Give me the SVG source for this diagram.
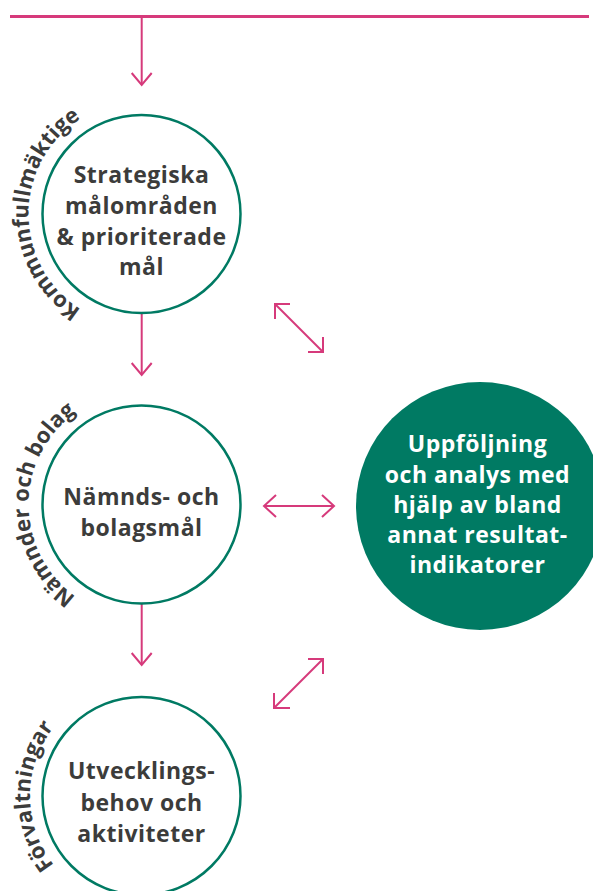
<svg xmlns="http://www.w3.org/2000/svg" width="593" height="891" viewBox="0 0 593 891">
<style>
.ring{fill:#ffffff;stroke:#007a63;stroke-width:2.5}
.solid{fill:#007a63}
.t{font-family:"Open Sans","Liberation Sans",sans-serif;font-weight:700;font-size:23px;text-anchor:middle;fill:#3c3c3b;letter-spacing:0.5px}
.tw{fill:#ffffff}
.lbl{font-family:"Open Sans","Liberation Sans",sans-serif;font-weight:700;font-size:22px;fill:#3c3c3b}
.c{fill:none;stroke:#d63a7b;stroke-width:2;stroke-linecap:butt;stroke-linejoin:miter}
.top{fill:none;stroke:#d63a7b;stroke-width:3}
</style>
<defs>
<path id="arc1" d="M141.5,327 A113,113 0 0 1 141.5,101"/>
<path id="arc2" d="M141.5,617.5 A113,113 0 0 1 141.5,391.5"/>
<path id="arc3" d="M141.5,907.5 A111.5,111.5 0 0 1 141.5,684.5"/>
</defs>
<g id="connectors">
<line class="top" x1="10" y1="16.5" x2="589" y2="16.5"/>
<line class="c" x1="141.7" y1="16.5" x2="141.7" y2="85"/>
<polyline class="c" points="131.7,73 141.7,85 151.7,73"/>
<line class="c" x1="141.7" y1="313" x2="141.7" y2="375"/>
<polyline class="c" points="131.7,363 141.7,375 151.7,363"/>
<line class="c" x1="141.7" y1="603.5" x2="141.7" y2="665"/>
<polyline class="c" points="131.7,653 141.7,665 151.7,653"/>
<line class="c" x1="275" y1="304" x2="323" y2="352"/>
<polyline class="c" points="290,304 275,304 275,319"/>
<polyline class="c" points="308,352 323,352 323,337"/>
<line class="c" x1="264" y1="506" x2="334" y2="506"/>
<polyline class="c" points="276,495 264,506 276,517"/>
<polyline class="c" points="322,495 334,506 322,517"/>
<line class="c" x1="274" y1="708" x2="323" y2="659"/>
<polyline class="c" points="308,659 323,659 323,674"/>
<polyline class="c" points="274,693 274,708 290,708"/>
</g>
<g id="node-strategiska">
<circle class="ring" cx="141.5" cy="214" r="99"/>
<text class="t" x="141.5" y="183">Strategiska</text>
<text class="t" x="141.5" y="214">målområden</text>
<text class="t" x="141.5" y="245">&amp; prioriterade</text>
<text class="t" x="141.5" y="275">mål</text>
<text class="lbl"><textPath href="#arc1" startOffset="50%" text-anchor="middle">Kommunfullmäktige</textPath></text>
</g>
<g id="node-namnder">
<circle class="ring" cx="141.5" cy="504.5" r="99"/>
<text class="t" x="141.5" y="505">Nämnds- och</text>
<text class="t" x="141.5" y="536">bolagsmål</text>
<text class="lbl"><textPath href="#arc2" startOffset="50%" text-anchor="middle">Nämnder och bolag</textPath></text>
</g>
<g id="node-utveckling">
<circle class="ring" cx="141.5" cy="796" r="99"/>
<text class="t" x="141.5" y="779">Utvecklings-</text>
<text class="t" x="141.5" y="811">behov och</text>
<text class="t" x="141.5" y="842">aktiviteter</text>
<text class="lbl"><textPath href="#arc3" startOffset="50%" text-anchor="middle">Förvaltningar</textPath></text>
</g>
<g id="node-uppfoljning">
<circle class="solid" cx="480" cy="506" r="124"/>
<text class="t tw" x="477.5" y="452">Uppföljning</text>
<text class="t tw" x="477.5" y="483">och analys med</text>
<text class="t tw" x="477.5" y="513">hjälp av bland</text>
<text class="t tw" x="477.5" y="543">annat resultat-</text>
<text class="t tw" x="477.5" y="573">indikatorer</text>
</g>
</svg>
